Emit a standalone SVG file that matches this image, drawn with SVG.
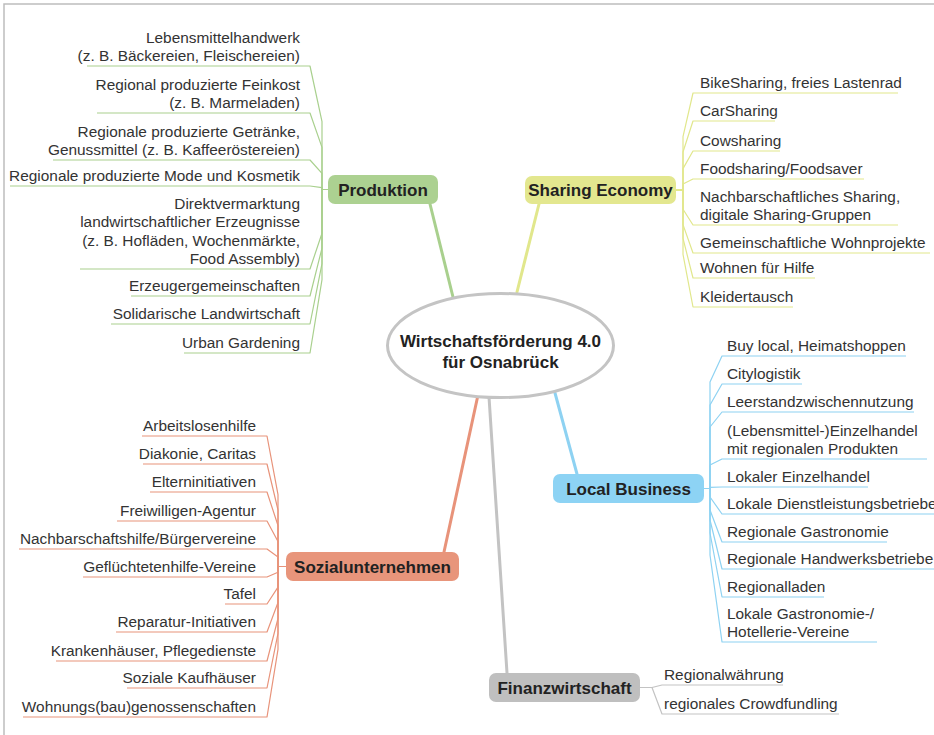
<svg xmlns="http://www.w3.org/2000/svg" width="934" height="735" viewBox="0 0 934 735">
<style>
.leaf{font-family:"Liberation Sans",Arial,sans-serif;font-size:15.4px;fill:#333}
.r{text-anchor:end}
.nt{font-family:"Liberation Sans",Arial,sans-serif;font-size:17px;font-weight:bold;fill:#222;text-anchor:middle}
.c{fill:none;stroke-width:1.2;stroke-linejoin:round}
.m{fill:none;stroke-width:3;stroke-linecap:round}
.g{stroke:#a9d08e}.y{stroke:#e1e78c}.b{stroke:#8ed2f2}.o{stroke:#e8937a}.s{stroke:#c3c3c3}
</style>
<rect width="934" height="735" fill="#fff"/>
<path d="M4 735 V4 H934" fill="none" stroke="#bdbdbd" stroke-width="1.5"/>
<g id="connectors">
<path class="m g" d="M430 204 L453 297"/>
<path class="m y" d="M539 204 L517 292"/>
<path class="m b" d="M555 393 L577 474"/>
<path class="m o" d="M478 395 L444 552"/>
<path class="m s" d="M489 397 L507 673"/>
<g class="c g">
<path d="M328 189.5 H322 V121.6 L310 66 H87"/>
<path d="M328 189.5 H322 V147.4 L310 113 H97"/>
<path d="M328 189.5 H322 V173.3 L310 160 H53"/>
<path d="M328 189.5 H322 V187.6 L310 186 H10"/>
<path d="M328 189.5 H322 V233.2 L310 269 H80"/>
<path d="M328 189.5 H322 V248.1 L310 296 H131"/>
<path d="M328 189.5 H322 V263.6 L310 324 H111"/>
<path d="M328 189.5 H322 V279.6 L310 353 H184"/>
</g>
<g class="c y">
<path d="M676 190 H683 V136.7 L693 93 H898"/>
<path d="M676 190 H683 V152 L693 121 H775"/>
<path d="M676 190 H683 V168.6 L693 151 H780"/>
<path d="M676 190 H683 V184 L693 179 H864"/>
<path d="M676 190 H683 V209.3 L693 225 H898"/>
<path d="M676 190 H683 V224.6 L693 253 H930"/>
<path d="M676 190 H683 V238.4 L693 278 H815"/>
<path d="M676 190 H683 V254.4 L693 307 H793"/>
</g>
<g class="c b">
<path d="M704 488.5 H710 V382 L722 356 H906"/>
<path d="M704 488.5 H710 V405 L722 384 H802"/>
<path d="M704 488.5 H710 V427 L722 412 H914"/>
<path d="M704 488.5 H710 V465 L722 459 H927"/>
<path d="M704 488.5 H710 V487.4 L722 487 H868"/>
<path d="M704 488.5 H710 V497 L722 514 H934"/>
<path d="M704 488.5 H710 V510 L722 542 H887"/>
<path d="M704 488.5 H710 V520 L722 569 H934"/>
<path d="M704 488.5 H710 V533 L722 597 H824"/>
<path d="M704 488.5 H710 V555 L722 642 H877"/>
</g>
<g class="c o">
<path d="M286 566.5 H278 V494.7 L267 436 H142"/>
<path d="M286 566.5 H278 V510 L267 464 H143"/>
<path d="M286 566.5 H278 V525.5 L267 492 H150"/>
<path d="M286 566.5 H278 V541.5 L267 521 H117"/>
<path d="M286 566.5 H278 V556.9 L267 549 H19"/>
<path d="M286 566.5 H278 V572.3 L267 577 H83"/>
<path d="M286 566.5 H278 V587.1 L267 604 H225"/>
<path d="M286 566.5 H278 V602.5 L267 632 H116"/>
<path d="M286 566.5 H278 V618.5 L267 661 H56"/>
<path d="M286 566.5 H278 V633.3 L267 688 H127"/>
<path d="M286 566.5 H278 V649.3 L267 717 H23"/>
</g>
<g class="c s">
<path d="M640 687.5 H652 L662 685 H783"/>
<path d="M640 687.5 H652 L662 714 H839"/>
</g>
</g>
<g id="center">
<ellipse cx="500.5" cy="345.5" rx="113" ry="52" fill="#fff" stroke="#c4c4c4" stroke-width="3"/>
<text class="nt" x="500.5" y="347">Wirtschaftsförderung 4.0</text>
<text class="nt" x="500.5" y="368">für Osnabrück</text>
</g>
<g id="produktion">
<rect x="328" y="175" width="110" height="29" rx="7" fill="#acd191"/>
<text class="nt" x="383" y="195.5">Produktion</text>
</g>
<g id="sharing">
<rect x="525" y="176" width="151" height="28" rx="7" fill="#e3e78f"/>
<text class="nt" x="600.5" y="196">Sharing Economy</text>
</g>
<g id="local">
<rect x="553" y="474" width="151" height="29" rx="7" fill="#8dd3f4"/>
<text class="nt" x="628.5" y="494.5">Local Business</text>
</g>
<g id="sozial">
<rect x="286" y="552" width="173" height="29" rx="7" fill="#e8957b"/>
<text class="nt" x="372.5" y="572.5">Sozialunternehmen</text>
</g>
<g id="finanz">
<rect x="489" y="673" width="151" height="29" rx="7" fill="#bfbfbf"/>
<text class="nt" x="564.5" y="693.5">Finanzwirtschaft</text>
</g>
<g id="produktion-leaves">
<text class="leaf r" x="300" y="42.5">Lebensmittelhandwerk</text>
<text class="leaf r" x="300" y="61">(z. B. Bäckereien, Fleischereien)</text>
<text class="leaf r" x="300" y="89.5">Regional produzierte Feinkost</text>
<text class="leaf r" x="300" y="108">(z. B. Marmeladen)</text>
<text class="leaf r" x="300" y="136.5">Regionale produzierte Getränke,</text>
<text class="leaf r" x="300" y="155">Genussmittel (z. B. Kaffeeröstereien)</text>
<text class="leaf r" x="300" y="181">Regionale produzierte Mode und Kosmetik</text>
<text class="leaf r" x="300" y="208.5">Direktvermarktung</text>
<text class="leaf r" x="300" y="227">landwirtschaftlicher Erzeugnisse</text>
<text class="leaf r" x="300" y="245.5">(z. B. Hofläden, Wochenmärkte,</text>
<text class="leaf r" x="300" y="264">Food Assembly)</text>
<text class="leaf r" x="300" y="291">Erzeugergemeinschaften</text>
<text class="leaf r" x="300" y="319">Solidarische Landwirtschaft</text>
<text class="leaf r" x="300" y="348">Urban Gardening</text>
</g>
<g id="sharing-leaves">
<text class="leaf" x="700" y="88">BikeSharing, freies Lastenrad</text>
<text class="leaf" x="700" y="116">CarSharing</text>
<text class="leaf" x="700" y="146">Cowsharing</text>
<text class="leaf" x="700" y="174">Foodsharing/Foodsaver</text>
<text class="leaf" x="700" y="201.5">Nachbarschaftliches Sharing,</text>
<text class="leaf" x="700" y="220">digitale Sharing-Gruppen</text>
<text class="leaf" x="700" y="248">Gemeinschaftliche Wohnprojekte</text>
<text class="leaf" x="700" y="273">Wohnen für Hilfe</text>
<text class="leaf" x="700" y="302">Kleidertausch</text>
</g>
<g id="local-leaves">
<text class="leaf" x="727" y="351">Buy local, Heimatshoppen</text>
<text class="leaf" x="727" y="379">Citylogistik</text>
<text class="leaf" x="727" y="407">Leerstandzwischennutzung</text>
<text class="leaf" x="727" y="435.5">(Lebensmittel-)Einzelhandel</text>
<text class="leaf" x="727" y="454">mit regionalen Produkten</text>
<text class="leaf" x="727" y="482">Lokaler Einzelhandel</text>
<text class="leaf" x="727" y="509">Lokale Dienstleistungsbetriebe</text>
<text class="leaf" x="727" y="537">Regionale Gastronomie</text>
<text class="leaf" x="727" y="564">Regionale Handwerksbetriebe</text>
<text class="leaf" x="727" y="592">Regionalladen</text>
<text class="leaf" x="727" y="618.5">Lokale Gastronomie-/</text>
<text class="leaf" x="727" y="637">Hotellerie-Vereine</text>
</g>
<g id="sozial-leaves">
<text class="leaf r" x="256" y="431">Arbeitslosenhilfe</text>
<text class="leaf r" x="256" y="459">Diakonie, Caritas</text>
<text class="leaf r" x="256" y="487">Elterninitiativen</text>
<text class="leaf r" x="256" y="516">Freiwilligen-Agentur</text>
<text class="leaf r" x="256" y="544">Nachbarschaftshilfe/Bürgervereine</text>
<text class="leaf r" x="256" y="572">Geflüchtetenhilfe-Vereine</text>
<text class="leaf r" x="256" y="599">Tafel</text>
<text class="leaf r" x="256" y="627">Reparatur-Initiativen</text>
<text class="leaf r" x="256" y="656">Krankenhäuser, Pflegedienste</text>
<text class="leaf r" x="256" y="683">Soziale Kaufhäuser</text>
<text class="leaf r" x="256" y="712">Wohnungs(bau)genossenschaften</text>
</g>
<g id="finanz-leaves">
<text class="leaf" x="664" y="680">Regionalwährung</text>
<text class="leaf" x="664" y="709">regionales Crowdfundling</text>
</g>
</svg>
